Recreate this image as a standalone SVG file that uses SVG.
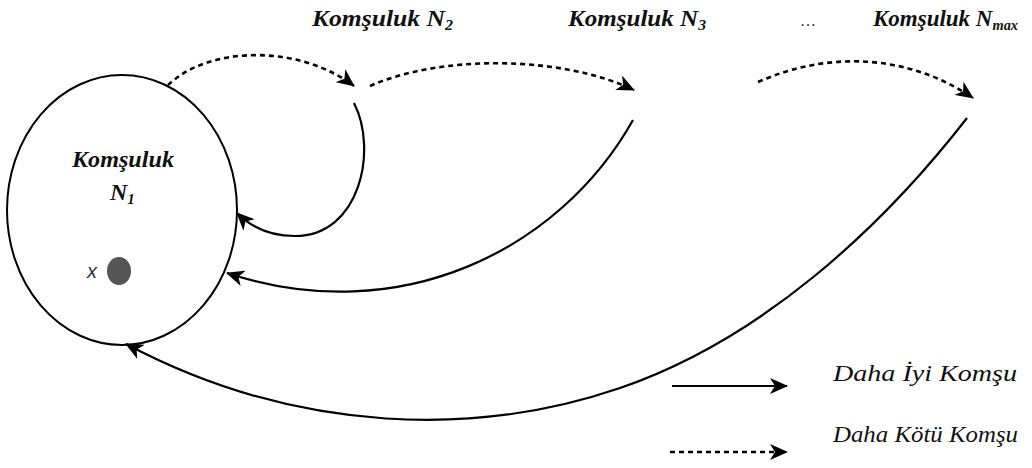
<svg xmlns="http://www.w3.org/2000/svg" width="1032" height="468" viewBox="0 0 1032 468">
<defs>
<marker id="ah" markerUnits="userSpaceOnUse" markerWidth="20" markerHeight="16" refX="17" refY="8" orient="auto">
<path d="M0,0 L18,8 L0,16 L5,8 z" fill="#000"/>
</marker>
<style>
text{font-family:'Liberation Serif','DejaVu Serif',serif}
.lbl{font-style:italic;font-weight:bold;font-size:24px;fill:#111}
.leg{font-style:italic;font-size:23px;fill:#111}
.sub{font-size:15px}
.solid{fill:none;stroke:#000;stroke-width:2.2}
.dash{fill:none;stroke:#000;stroke-width:2.6;stroke-dasharray:5 4}
</style>
</defs>
<rect width="1032" height="468" fill="#fff"/>
<g id="n1">
<ellipse cx="122" cy="210" rx="115" ry="135" fill="none" stroke="#000" stroke-width="2"/>
<text class="lbl" x="72" y="167" textLength="102" lengthAdjust="spacingAndGlyphs">Komşuluk</text>
<text class="lbl" x="110" y="200">N<tspan class="sub" dy="4">1</tspan></text>
<text x="87" y="278" style="font-family:'Liberation Sans',Arial,sans-serif;font-style:italic;font-size:20px;fill:#333">x</text>
<ellipse cx="119" cy="271" rx="12" ry="14" fill="#555"/>
</g>
<g id="n2"><text class="lbl" x="312" y="26" textLength="141" lengthAdjust="spacingAndGlyphs">Komşuluk N<tspan class="sub" dy="4">2</tspan></text></g>
<g id="n3"><text class="lbl" x="568" y="26" textLength="138" lengthAdjust="spacingAndGlyphs">Komşuluk N<tspan class="sub" dy="4">3</tspan></text></g>
<g id="dots"><text x="808" y="26" text-anchor="middle" style="font-size:16px;fill:#333">…</text></g>
<g id="nmax"><text class="lbl" x="873" y="26" textLength="145" lengthAdjust="spacingAndGlyphs">Komşuluk N<tspan class="sub" dy="4">max</tspan></text></g>
<g id="connectors">
<path class="dash" d="M168,85 C210,45 300,45 354,86" marker-end="url(#ah)"/>
<path class="dash" d="M370,86 C440,55 560,55 634,90" marker-end="url(#ah)"/>
<path class="dash" d="M758,82 C830,50 910,55 973,98" marker-end="url(#ah)"/>
<path class="solid" d="M354,103 C378,150 360,236 295,236 C268,236 250,226 237,213" marker-end="url(#ah)"/>
<path class="solid" d="M633,120 C560,250 400,330 227,273" marker-end="url(#ah)"/>
<path class="solid" d="M967,118 C880,230 760,340 620,388 C480,436 300,436 126,344" marker-end="url(#ah)"/>
</g>
<g id="legend">
<path class="solid" d="M672,386 L787,386" stroke-width="3" marker-end="url(#ah)"/>
<path class="dash" d="M670,452 L787,452" marker-end="url(#ah)"/>
<text class="leg" x="833" y="381" textLength="184" lengthAdjust="spacingAndGlyphs">Daha İyi  Komşu</text>
<text class="leg" x="833" y="442" textLength="185" lengthAdjust="spacingAndGlyphs">Daha Kötü Komşu</text>
</g>
</svg>
